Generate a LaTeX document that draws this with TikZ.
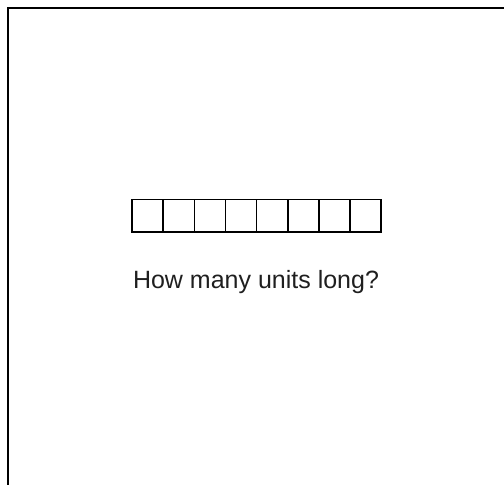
\documentclass[tikz,border=0pt]{standalone}
\usepackage{fontspec}
\setmainfont{Liberation Sans}
\begin{document}
\begin{tikzpicture}[x=1pt,y=-1pt,
  unitbox/.style={draw=black,line width=1.7pt,minimum width=31.1pt,minimum height=32.5pt,inner sep=0pt,outer sep=0pt,anchor=north west},
  frameline/.style={line width=2pt}]
\useasboundingbox (0,0) rectangle (504,485);
\coordinate (fbl) at (7.8,490);
\coordinate (ftl) at (7.8,7.8);
\coordinate (ftr) at (510,7.8);
\draw[frameline] (fbl) -- (ftl) -- (ftr);
\foreach \i in {0,...,7}{
  \node[unitbox] (u\i) at ({132.2+\i*31.1},199.5) {};
}
\node[anchor=base,font=\fontsize{25}{30}\selectfont,text=black!88,inner sep=0pt] (q) at (256,288) {How many units long?};
\end{tikzpicture}
\end{document}
